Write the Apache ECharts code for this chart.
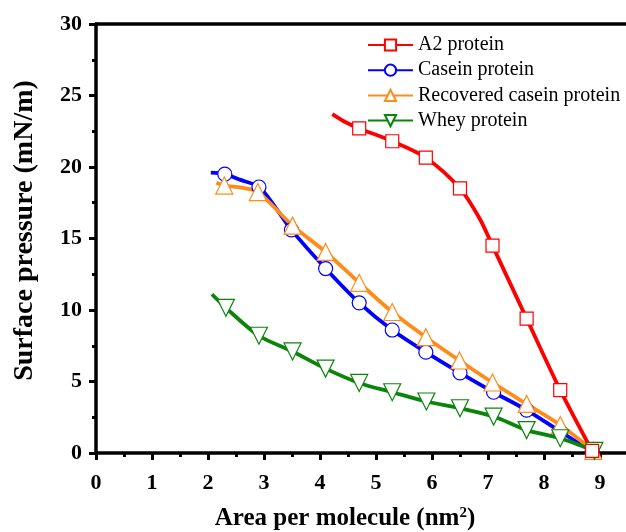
<!DOCTYPE html>
<html>
<head>
<meta charset="utf-8">
<script src="https://cdn.jsdelivr.net/npm/echarts@6/dist/echarts.min.js"></script>
<style>
  html, body { margin: 0; padding: 0; background: #fff; }
  #chart { width: 626px; height: 532px; }
</style>
</head>
<body>
<div id="chart"></div>
<script>
// marker points [area, pressure] and extra unmarked curve points
const a2Marks = [[4.70, 22.7], [5.29, 21.8], [5.89, 20.65], [6.50, 18.5], [7.08, 14.5], [7.69, 9.4], [8.29, 4.4], [8.86, 0.15]]
const a2Line = [[4.22, 23.7], [4.45, 23.15], [6.85, 16.4]]

const caseinMarks = [[2.30, 19.5], [2.91, 18.6], [3.49, 15.6], [4.10, 12.9], [4.70, 10.5], [5.29, 8.6], [5.89, 7.05], [6.50, 5.6], [7.10, 4.25], [7.69, 3.0], [8.29, 1.5], [8.86, 0.1]]
const caseinLine = [[2.05, 19.6], [2.58, 19.1], [3.2, 17.2]]

const recoveredMarks = [[2.29, 18.7], [2.89, 18.25], [3.51, 15.9], [4.10, 14.06], [4.70, 11.9], [5.29, 9.86], [5.89, 8.1], [6.49, 6.47], [7.08, 4.93], [7.69, 3.43], [8.29, 1.96], [8.88, 0.15]]
const recoveredLine = [[2.15, 18.9], [2.6, 18.55]]

const wheyMarks = [[2.32, 10.15], [2.91, 8.2], [3.51, 7.1], [4.10, 5.9], [4.70, 4.9], [5.29, 4.25], [5.90, 3.6], [6.50, 3.13], [7.10, 2.55], [7.69, 1.6], [8.29, 1.03], [8.90, 0.15]]
const wheyLine = [[2.07, 11.1]]

const seriesNames = ['A2 protein', 'Casein protein', 'Recovered casein protein', 'Whey protein']

const serif = '"Liberation Serif", "Times New Roman", serif'

// merge marked and unmarked points, sorted by area
function buildData(marks, line) {
  const pts = marks.map(p => ({ value: p }))
    .concat(line.map(p => ({ value: p, symbol: 'none' })))
  pts.sort((a, b) => a.value[0] - b.value[0])
  return pts
}

function makeSeries(name, marks, line, color, symbol, size, rotate) {
  return {
    name: name,
    type: 'line',
    data: buildData(marks, line),
    smooth: 0.3,
    symbol: symbol,
    symbolSize: size,
    symbolRotate: rotate || 0,
    showAllSymbol: true,
    lineStyle: { color: color, width: 3.8 },
    itemStyle: { color: '#fff', borderColor: color, borderWidth: 1.2 },
    emphasis: { disabled: true }
  }
}

const chart = echarts.init(document.getElementById('chart'))

const axisLine = { lineStyle: { color: '#000', width: 3.5 } }

const option = {
  animation: false,
  backgroundColor: '#fff',
  textStyle: { fontFamily: serif },
  grid: { left: 96, right: -2, top: 24, bottom: 79, outerBoundsMode: 'none' },
  legend: {
    data: seriesNames,
    orient: 'vertical',
    left: 362,
    top: 30,
    itemWidth: 45,
    itemHeight: 14,
    itemGap: 5.2,
    textStyle: { fontFamily: serif, fontSize: 20, color: '#000' }
  },
  xAxis: [
    {
      type: 'value',
      min: 0,
      max: 9.5,
      interval: 1,
      name: 'Area per molecule (nm{sup|2})',
      nameLocation: 'middle',
      nameGap: 53,
      nameTextStyle: {
        fontFamily: serif, fontSize: 25, fontWeight: 'bold', color: '#000',
        padding: [0, 34, 0, 0],
        rich: { sup: { fontFamily: serif, fontSize: 15, fontWeight: 'bold', verticalAlign: 'top', padding: [0, 0, 10, 0] } }
      },
      axisLine: axisLine,
      axisTick: { show: true, length: 7, lineStyle: { width: 3, color: '#000' } },
      minorTick: { show: true, splitNumber: 2, length: 4, lineStyle: { width: 3, color: '#000' } },
      axisLabel: { showMaxLabel: false, margin: 19, fontFamily: serif, fontSize: 22, fontWeight: 'bold', color: '#000' },
      splitLine: { show: false }
    },
    {
      type: 'value',
      position: 'top',
      min: 0,
      max: 9.5,
      axisLine: axisLine,
      axisTick: { show: false },
      axisLabel: { show: false },
      splitLine: { show: false }
    }
  ],
  yAxis: {
    type: 'value',
    min: 0,
    max: 30,
    interval: 5,
    name: 'Surface pressure (mN/m)',
    nameLocation: 'middle',
    nameGap: 57,
    nameTextStyle: { fontFamily: serif, fontSize: 28, fontWeight: 'bold', color: '#000', padding: [0, 0, 0, 16] },
    axisLine: axisLine,
    axisTick: { show: true, length: 7, lineStyle: { width: 3, color: '#000' } },
    minorTick: { show: true, splitNumber: 2, length: 4, lineStyle: { width: 3, color: '#000' } },
    axisLabel: { margin: 14, fontFamily: serif, fontSize: 22, fontWeight: 'bold', color: '#000' },
    splitLine: { show: false }
  },
  series: [
    makeSeries(seriesNames[1], caseinMarks, caseinLine, '#0000ff', 'circle', 14),
    makeSeries(seriesNames[2], recoveredMarks, recoveredLine, '#ff8c1a', 'triangle', 17),
    makeSeries(seriesNames[3], wheyMarks, wheyLine, '#0a850a', 'triangle', 17, 180),
    makeSeries(seriesNames[0], a2Marks, a2Line, '#ff0000', 'rect', 13)
  ]
}

chart.setOption(option)

window.addEventListener('resize', function() {
  chart.resize()
})
</script>
</body>
</html>
